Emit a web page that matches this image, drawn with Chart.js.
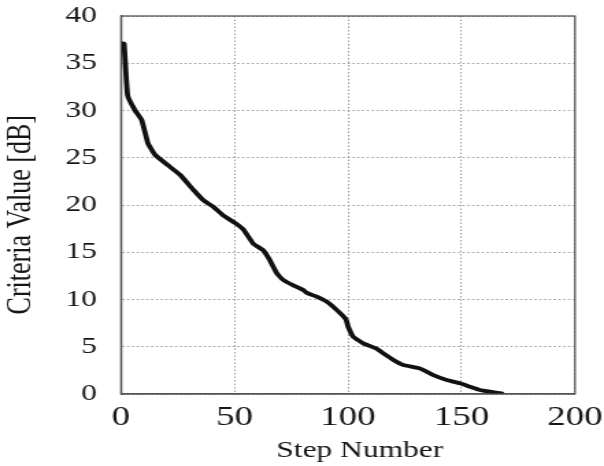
<!DOCTYPE html>
<html>
<head>
<meta charset="utf-8">
<script src="https://cdn.jsdelivr.net/npm/chart.js@4.4.1/dist/chart.umd.min.js"></script>
<style>
  html, body { margin: 0; padding: 0; background: #fff; overflow: hidden; }
  #wrap { width: 441px; height: 466px; transform: scaleX(1.3696); transform-origin: 0 0; }
</style>
</head>
<body>
<div id="wrap"><canvas id="curve" width="441" height="466"></canvas></div>
<script>
// step number vs. criteria value (dB)
const steps = [0.3, 1.3, 2.9, 6.2, 9.1, 11.9, 15, 20.7, 26, 31.9, 36.3, 40.7, 45, 50.2,
  53.9, 58.3, 62.7, 65.2, 68.6, 71.5, 75.9, 80.3, 81.8, 86.2, 90.6, 95, 99.1, 100.1,
  102.3, 106.7, 112.6, 115.6, 120, 124.4, 131.7, 137.6, 143.5, 149.3, 153.7, 158.1,
  162.6, 167.7];
const criteria = [37.1, 37.1, 31.6, 30.0, 29.0, 26.5, 25.3, 24.2, 23.2, 21.6, 20.5, 19.8,
  18.9, 18.1, 17.4, 15.9, 15.2, 14.3, 12.8, 12.06, 11.5, 11.0, 10.7, 10.3, 9.77, 8.9,
  7.9, 7.1, 6.06, 5.36, 4.8, 4.3, 3.6, 3.07, 2.7, 2.0, 1.48, 1.13, 0.77, 0.42, 0.24, 0.07];

const xTicks = [0, 50, 100, 150, 200];
const yTicks = [0, 5, 10, 15, 20, 25, 30, 35, 40];

const serif = "'Liberation Serif', 'Times New Roman', serif";
const ink = "#161616";
const gridOpts = { color: "#9a9a9a", lineWidth: 1, drawTicks: false };
const dash = [1.5, 2];

// box around the plot area (chart.js only draws the left/bottom borders)
const frame = {
  id: "frame",
  afterDraw(chart) {
    const { ctx, chartArea: a } = chart;
    ctx.save();
    ctx.strokeStyle = "#555";
    ctx.lineWidth = 1.3;
    ctx.strokeRect(a.left, a.top, a.right - a.left, a.bottom - a.top);
    ctx.restore();
  },
};

new Chart(document.getElementById("curve"), {
  type: "line",
  data: {
    datasets: [{
      data: steps.map((s, i) => ({ x: s, y: criteria[i] })),
      borderColor: "#111",
      borderWidth: 3.8,
      borderCapStyle: "round",
      borderJoinStyle: "round",
      pointRadius: 0,
      tension: 0.1,
      fill: false,
    }],
  },
  options: {
    responsive: false,
    animation: false,
    devicePixelRatio: 1,
    layout: { padding: { top: 16, right: 21.2, left: 0, bottom: 0 } },
    plugins: { legend: { display: false }, tooltip: { enabled: false } },
    scales: {
      x: {
        type: "linear",
        min: 0,
        max: 200,
        afterBuildTicks: (s) => { s.ticks = xTicks.map((v) => ({ value: v })); },
        afterFit: (s) => { s.height = 72; s.paddingLeft = 0; s.paddingRight = 0; },
        grid: gridOpts,
        border: { color: "#555", width: 1.3, dash: dash },
        ticks: { color: ink, font: { family: serif, size: 27 }, padding: 8, maxRotation: 0 },
        // leading spaces nudge the title a little right of the axis centre
        title: { display: true, text: "   Step Number", color: ink,
          font: { family: serif, size: 23 }, padding: { top: 0, bottom: 1 } },
      },
      y: {
        min: 0,
        max: 40,
        afterBuildTicks: (s) => { s.ticks = yTicks.map((v) => ({ value: v })); },
        afterFit: (s) => { s.width = 88.35; s.paddingTop = 0; s.paddingBottom = 0; },
        grid: gridOpts,
        border: { color: "#555", width: 1.3, dash: dash },
        ticks: { color: ink, font: { family: serif, size: 23 }, padding: 17.5 },
        // trailing spaces push the rotated title slightly down
        title: { display: true, text: "Criteria Value [dB]   ", color: ink,
          font: { family: serif, size: 26 }, padding: 0 },
      },
    },
  },
  plugins: [frame],
});
</script>
</body>
</html>
